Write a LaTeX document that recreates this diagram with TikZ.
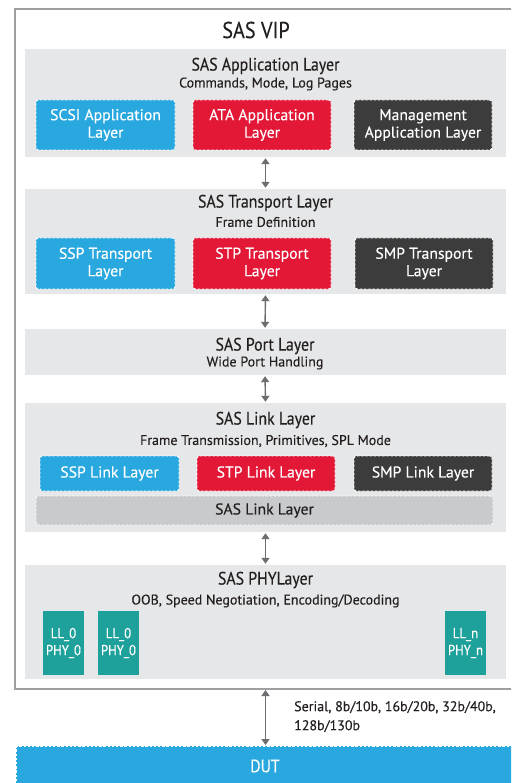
\documentclass[tikz,border=0pt]{standalone}
\usepackage{fontspec}
\setmainfont{PT Sans}[FakeBold=0.25]
\newfontfamily\narrowfont{PT Sans}[FakeStretch=0.88, FakeBold=0.25]
\usetikzlibrary{arrows.meta}
\definecolor{bandgray}{HTML}{E6E7E8}
\definecolor{linkgray}{HTML}{C9CACC}
\definecolor{sasblue}{HTML}{29A8DF}
\definecolor{sasred}{HTML}{E31837}
\definecolor{sasdark}{HTML}{3C3C3C}
\definecolor{sasteal}{HTML}{1FA19B}
\definecolor{arrowgray}{HTML}{6D6E70}
\definecolor{textdark}{HTML}{231F20}
\definecolor{framegray}{HTML}{9D9FA2}
\tikzset{
  band/.style={fill=bandgray, draw=none, inner sep=0pt},
  bandtitle/.style={text=textdark, font=\narrowfont\fontsize{18}{20}\selectfont, inner sep=0pt},
  bandsub/.style={text=textdark, font=\fontsize{14}{16}\selectfont, inner sep=0pt},
  subbox/.style={draw=white, dash pattern=on 2.4pt off 1.8pt, line width=0.9pt,
    rounded corners=2.5pt, inner sep=0pt, text=white, align=center,
    font=\fontsize{15.7}{17.5}\selectfont},
  bluebox/.style={subbox, fill=sasblue},
  redbox/.style={subbox, fill=sasred},
  darkbox/.style={subbox, fill=sasdark},
  phybox/.style={fill=sasteal, draw=none, inner sep=0pt, text=white, align=center,
    font=\narrowfont\fontsize{14.5}{17}\selectfont},
  link/.style={draw=arrowgray, line width=1.4pt, {Triangle[length=6pt,width=8pt]}-{Triangle[length=6pt,width=8pt]}, shorten <=1pt, shorten >=1pt},
}
\begin{document}
\begin{tikzpicture}[x=1pt,y=-1pt]
\useasboundingbox (0,0) rectangle (511,783);
\clip (0,0) rectangle (511,783);
\fill[white] (0,0) rectangle (511,783);

% outer frame of the verification IP
\draw[framegray, line width=1.4pt] (15,9) rectangle (530,689);
\node[text=textdark, font=\narrowfont\fontsize{23}{26}\selectfont, inner sep=0pt] (vip) at (256,30) {SAS VIP};
\coordinate (vipbottom) at (265.5,689);

% application layer
\node[band, minimum width=481pt, minimum height=108pt] (app) at (265.5,103) {};
\node[bandtitle] (apptitle) at (265.5,66) {SAS Application Layer};
\node[bandsub] (appsub) at (265.5,84) {Commands, Mode, Log Pages};
\node[bluebox, minimum width=139pt, minimum height=50pt] (scsi) at (105.5,125) {SCSI Application\\Layer};
\node[redbox, minimum width=138pt, minimum height=50pt] (ata) at (262,125) {ATA Application\\Layer};
\node[darkbox, minimum width=138pt, minimum height=50pt] (mgmt) at (423,125) {Management\\Application Layer};

% transport layer
\node[band, minimum width=481pt, minimum height=105pt] (trans) at (265.5,241.5) {};
\node[bandtitle] (transtitle) at (265.5,203) {SAS Transport Layer};
\node[bandsub] (transsub) at (265.5,222) {Frame Definition};
\node[bluebox, minimum width=139pt, minimum height=51pt] (ssptr) at (105.5,263.5) {SSP Transport\\Layer};
\node[redbox, minimum width=138pt, minimum height=51pt] (stptr) at (262,263.5) {STP Transport\\Layer};
\node[darkbox, minimum width=138pt, minimum height=51pt] (smptr) at (424,263.5) {SMP Transport\\Layer};

% port layer
\node[band, minimum width=481pt, minimum height=46pt] (port) at (265,352) {};
\node[bandtitle] (porttitle) at (265,346) {SAS Port Layer};
\node[bandsub] (portsub) at (265,363) {Wide Port Handling};

% link layer
\node[band, minimum width=481pt, minimum height=129pt] (link) at (265.5,467.5) {};
\node[bandtitle] (linktitle) at (265.5,420) {SAS Link Layer};
\node[bandsub] (linksub) at (265.5,441) {Frame Transmission, Primitives, SPL Mode};
\node[bluebox, minimum width=139pt, minimum height=35pt] (ssplink) at (109.5,473.5) {SSP Link Layer};
\node[redbox, minimum width=138pt, minimum height=35pt] (stplink) at (266,473.5) {STP Link Layer};
\node[darkbox, minimum width=138pt, minimum height=35pt] (smplink) at (423,473.5) {SMP Link Layer};
\node[subbox, fill=linkgray, text=textdark, minimum width=457pt, minimum height=29pt] (saslink) at (264.5,510.5) {SAS Link Layer};

% phy layer
\node[band, minimum width=481pt, minimum height=114pt] (phy) at (265.5,622) {};
\node[bandtitle] (phytitle) at (265.5,580) {SAS PHYLayer};
\node[bandsub] (physub) at (265.5,601) {OOB, Speed Negotiation, Encoding/Decoding};
\node[phybox, minimum width=41pt, minimum height=64pt] (phya) at (63.5,643) {LL\_0\\PHY\_0};
\node[phybox, minimum width=41pt, minimum height=64pt] (phyb) at (118.5,643) {LL\_0\\PHY\_0};
\node[phybox, minimum width=41pt, minimum height=64pt] (phyn) at (465.5,643) {LL\_n\\PHY\_n};

% device under test
\node[subbox, fill=sasblue, rounded corners=0pt, minimum width=530pt, minimum height=50pt, anchor=north west] (dut) at (16,746) {};
\node[text=white, font=\narrowfont\fontsize{18}{20}\selectfont, inner sep=0pt] (duttext) at (265,766) {DUT};

% connectors between the layers
\draw[link] (app.south) -- (trans.north);
\draw[link] (trans.south) -- (port.north);
\draw[link] (port.south) -- (link.north);
\draw[link] (link.south) -- (phy.north);
\draw[link] (vipbottom) -- (dut.north -| vipbottom);
\node[text=textdark, font=\fontsize{14}{19}\selectfont, align=left, anchor=north west, inner sep=0pt] (serial) at (294,701) {Serial, 8b/10b, 16b/20b, 32b/40b,\\128b/130b};
\end{tikzpicture}
\end{document}
